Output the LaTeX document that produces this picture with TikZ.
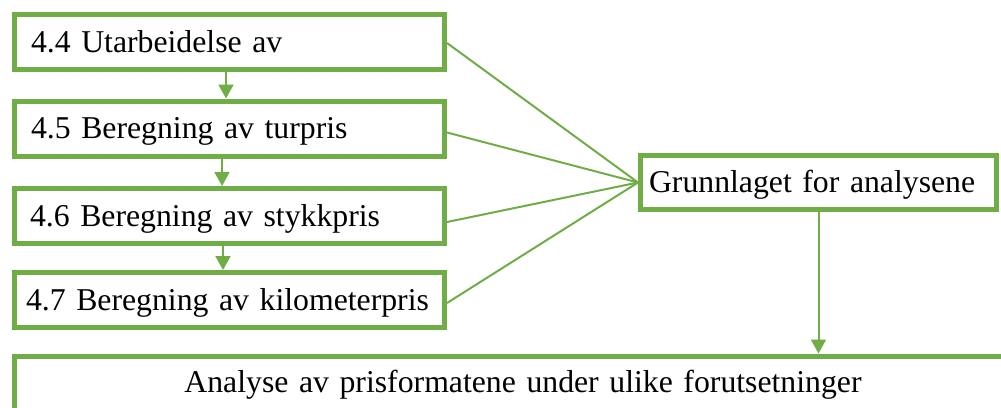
\documentclass[tikz,border=0pt]{standalone}
\usepackage{fontspec}
\setmainfont{Liberation Serif}
\usetikzlibrary{arrows.meta}
\definecolor{grn}{HTML}{70AD47}
\begin{document}
\begin{tikzpicture}[x=1pt,y=-1pt,
  box/.style={draw=grn, line width=5pt, fill=white, minimum height=55pt, inner ysep=0pt,
    font=\fontsize{31.75}{38}\selectfont, text height=20pt, text depth=0pt, align=left},
  conn/.style={draw=grn, line width=2pt},
  arr/.style={conn, -{Triangle[width=15pt,length=14pt]}}]
\useasboundingbox (0,0) rectangle (1001,407);
\clip (0,0) rectangle (1001,407);
\node[box, inner xsep=16.5pt, text width=397pt] (b1) at (229.5,42) {4.4 Utarbeidelse av};
\node[box, inner xsep=16.5pt, text width=397pt] (b2) at (229.5,128.5) {4.5 Beregning av turpris};
\node[box, inner xsep=15.5pt, text width=399pt] (b3) at (229.5,216) {4.6 Beregning av stykkpris};
\node[box, inner xsep=11.5pt, text width=407pt] (b4) at (229.5,300) {4.7 Beregning av kilometerpris};
\node[box, inner xsep=8.5pt, text width=339pt, minimum height=54pt] (g) at (818.5,182.5) {Grunnlaget for analysene};
\node[box, inner xsep=10pt, text width=997pt, minimum height=84pt, align=center,
  text height=18pt, text depth=30pt] (bot) at (523,398) {Analyse av prisformatene under ulike forutsetninger};
\draw[conn] ([yshift=-1pt]b1.east) -- (g.west);
\draw[conn] ([yshift=-4pt]b2.east) -- (g.west);
\draw[conn] ([yshift=-6pt]b3.east) -- (g.west);
\draw[conn] ([yshift=-3pt]b4.east) -- (g.west);
\draw[arr] ([xshift=-3.5pt]b1.south) -- ([xshift=-3.5pt]b2.north);
\draw[arr] ([xshift=-7.5pt]b2.south) -- ([xshift=-7.5pt]b3.north);
\draw[arr] ([xshift=-6.5pt]b3.south) -- ([xshift=-6.5pt]b4.north);
\draw[arr] (g.south) -- (g.south |- bot.north);
\end{tikzpicture}
\end{document}
